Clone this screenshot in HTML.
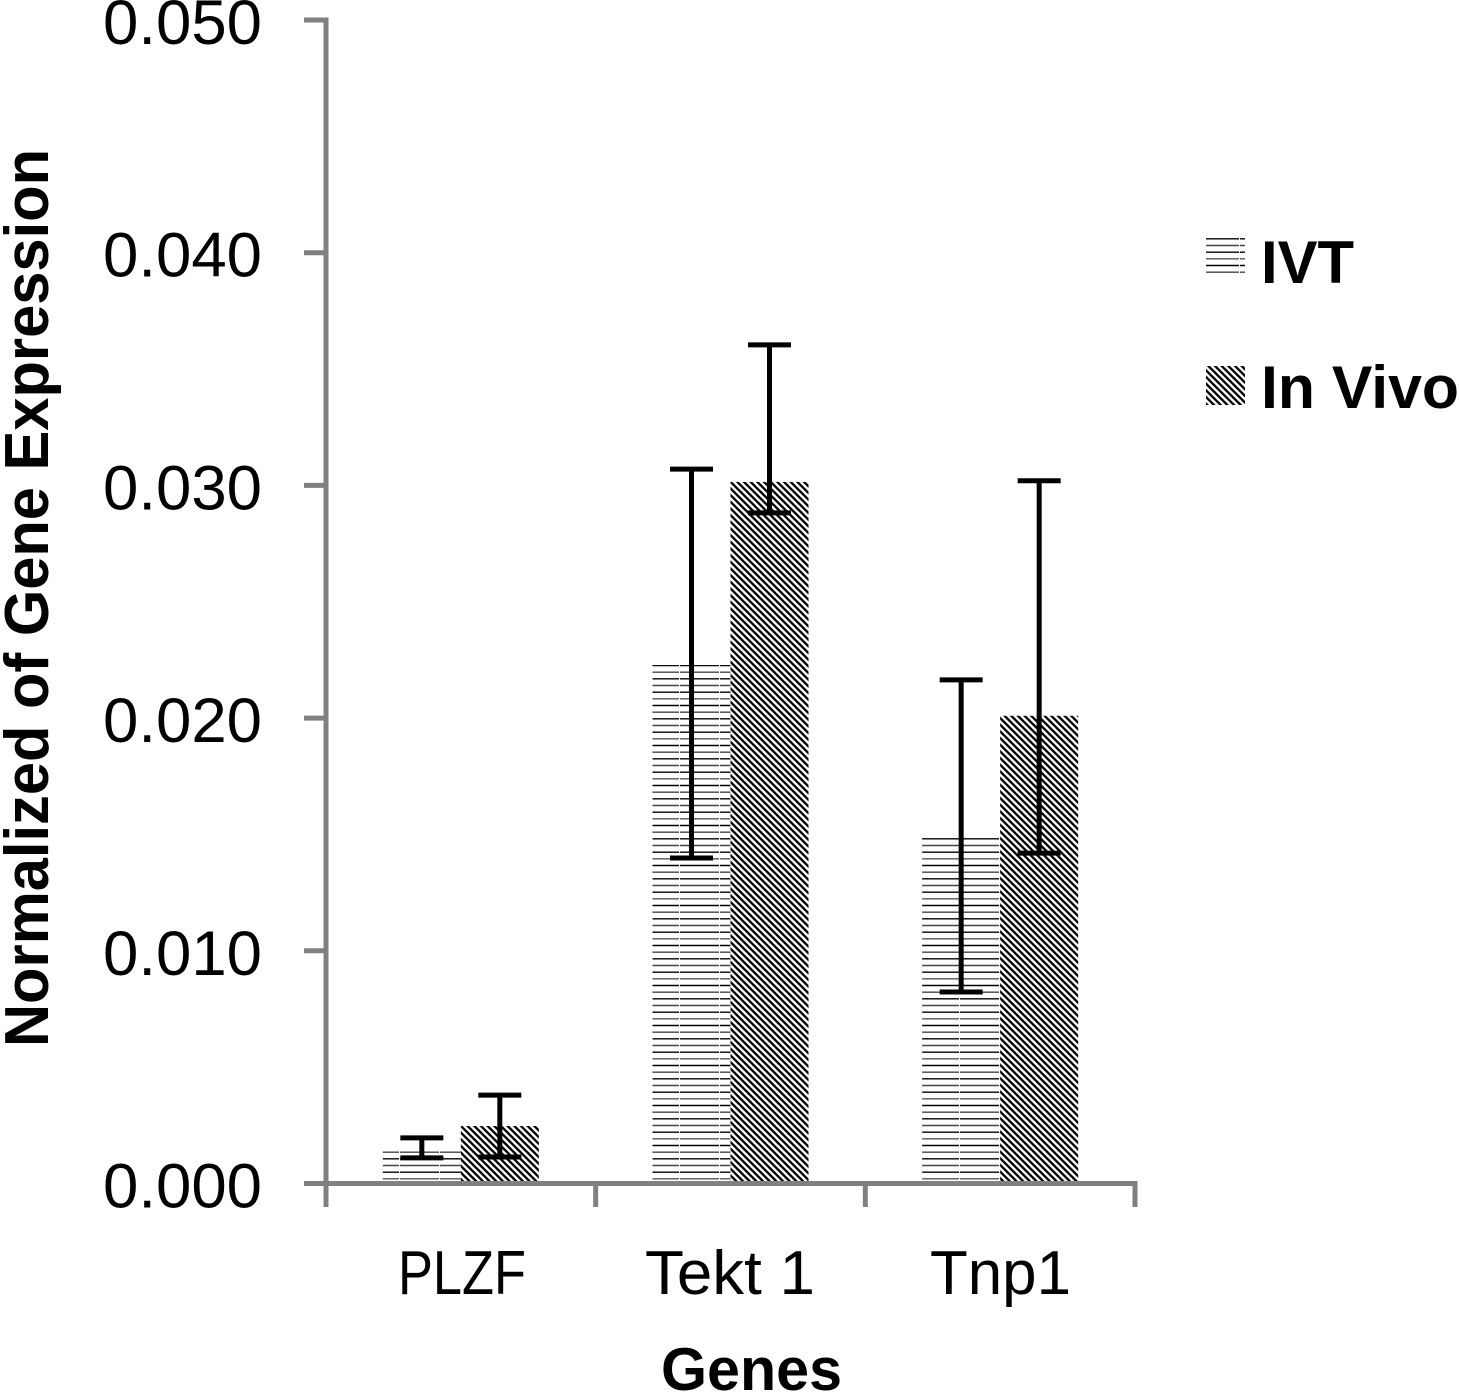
<!DOCTYPE html>
<html>
<head>
<meta charset="utf-8">
<title>Normalized Gene Expression Chart</title>
<style>
html,body{margin:0;padding:0;background:#fff;width:1459px;height:1394px;overflow:hidden}
svg{display:block}
text{font-family:"Liberation Sans",sans-serif;fill:#000}
</style>
</head>
<body>
<svg id="chart" xmlns="http://www.w3.org/2000/svg" width="1459" height="1394" viewBox="0 0 1459 1394">
<defs>
<pattern id="hatch-ivt" patternUnits="userSpaceOnUse" x="0" y="4.5" width="40" height="40">
<rect width="40" height="40" fill="#fff"/>
<g stroke-width="1.4">
<line x1="0" x2="40" y1="1" y2="1" stroke="#444"/>
<line x1="0" x2="40" y1="7.67" y2="7.67" stroke="#000"/>
<line x1="0" x2="40" y1="14.33" y2="14.33" stroke="#555"/>
<line x1="0" x2="40" y1="21" y2="21" stroke="#000"/>
<line x1="0" x2="40" y1="27.67" y2="27.67" stroke="#444"/>
<line x1="0" x2="40" y1="34.33" y2="34.33" stroke="#000"/>
</g>
<line x1="39.5" x2="39.5" y1="0" y2="40" stroke="#fff" stroke-width="1"/>
</pattern>
<pattern id="hatch-vivo" patternUnits="userSpaceOnUse" width="6.67" height="6.67" patternTransform="translate(729 0)">
<rect width="6.67" height="6.67" fill="#fff"/>
<path d="M-1.67,-1.67 L8.34,8.34 M-1.67,4.99 L1.67,8.34 M4.99,-1.67 L8.34,1.67" stroke="#000" stroke-width="2.3" fill="none"/>
</pattern>
</defs>
<g id="bars"></g>
<g id="errors"></g>
<g id="axes"></g>
<g id="labels">
<text x="398" y="1294" font-size="62" textLength="128" lengthAdjust="spacingAndGlyphs">PLZF</text>
<text x="645" y="1294" font-size="62" textLength="170" lengthAdjust="spacingAndGlyphs">Tekt 1</text>
<text x="930" y="1294" font-size="62" textLength="141" lengthAdjust="spacingAndGlyphs">Tnp1</text>
</g>
<text transform="translate(48 1047) rotate(-90)" font-size="62" font-weight="bold" textLength="898" lengthAdjust="spacingAndGlyphs">Normalized of Gene Expression</text>
<text x="661" y="1390" font-size="60" font-weight="bold" textLength="181" lengthAdjust="spacingAndGlyphs">Genes</text>
<g>
<g>
<rect x="1206" y="238" width="39" height="37" fill="url(#hatch-ivt)"/>
<text x="1261" y="283" font-size="60" font-weight="bold" textLength="93" lengthAdjust="spacingAndGlyphs">IVT</text>
</g>
<g>
<rect x="1206" y="366" width="39" height="39" fill="url(#hatch-vivo)"/>
<text x="1261" y="408" font-size="60" font-weight="bold" textLength="198" lengthAdjust="spacingAndGlyphs">In Vivo</text>
</g>
</g>
</svg>
<script>
const categories = ['PLZF', 'Tekt 1', 'Tnp1'];
const seriesNames = ['IVT', 'In Vivo'];
const ivtValues = [0.00144, 0.02228, 0.01485];
const vivoValues = [0.00247, 0.03015, 0.0201];
const ivtErrHigh = [0.00196, 0.0307, 0.02164];
const ivtErrLow = [0.0011, 0.01399, 0.00823];
const vivoErrHigh = [0.0038, 0.03604, 0.0302];
const vivoErrLow = [0.00114, 0.02882, 0.0142];
const yTicks = [0, 0.01, 0.02, 0.03, 0.04, 0.05];
const yTickLabels = ['0.000', '0.010', '0.020', '0.030', '0.040', '0.050'];

const NS = 'http://www.w3.org/2000/svg';
const plotLeft = 326, plotRight = 1135, plotBottom = 1183.5, plotTop = 20, yMax = 0.05;
const bandWidth = (plotRight - plotLeft) / categories.length;
const barWidth = 78, capHalf = 21.5;
const y = v => plotBottom - (v / yMax) * (plotBottom - plotTop);
const bandCenter = i => plotLeft + bandWidth * (i + 0.5);
const svgEl = (tag, parent, attrs) => {
  const el = document.createElementNS(NS, tag);
  for (const k in attrs) el.setAttribute(k, attrs[k]);
  parent.appendChild(el);
  return el;
};
const barsG = document.getElementById('bars');
const errorsG = document.getElementById('errors');
const axesG = document.getElementById('axes');
const labelsG = document.getElementById('labels');

const seriesValues = [ivtValues, vivoValues];
const seriesHigh = [ivtErrHigh, vivoErrHigh];
const seriesLow = [ivtErrLow, vivoErrLow];
const seriesFill = ['url(#hatch-ivt)', 'url(#hatch-vivo)'];

categories.forEach((cat, i) => {
  seriesNames.forEach((name, s) => {
    const x0 = bandCenter(i) + (s === 0 ? -barWidth : 0);
    const cx = x0 + barWidth / 2;
    const v = seriesValues[s][i];
    const bar = svgEl('rect', barsG, {x: x0, y: y(v), width: barWidth, height: plotBottom - y(v), fill: seriesFill[s]});
    
    

    const hi = y(seriesHigh[s][i]), lo = y(seriesLow[s][i]);
    const stem = svgEl('line', errorsG, {x1: cx, x2: cx, y1: hi, y2: lo, stroke: '#000', 'stroke-width': 5});
    
    
    const capTop = svgEl('line', errorsG, {x1: cx - capHalf, x2: cx + capHalf, y1: hi, y2: hi, stroke: '#000', 'stroke-width': 5});
    
    
    const capBottom = svgEl('line', errorsG, {x1: cx - capHalf, x2: cx + capHalf, y1: lo, y2: lo, stroke: '#000', 'stroke-width': 5});
    
    
  });
});

const AXIS = '#808080';
const yAxisLine = svgEl('line', axesG, {x1: plotLeft, x2: plotLeft, y1: plotTop - 2.5, y2: 1207, stroke: AXIS, 'stroke-width': 5});


const xAxisLine = svgEl('line', axesG, {x1: 304, x2: plotRight + 2.5, y1: plotBottom, y2: plotBottom, stroke: AXIS, 'stroke-width': 5});



yTicks.forEach((t, i) => {
  const tick = svgEl('line', axesG, {x1: 304, x2: plotLeft, y1: y(t), y2: y(t), stroke: AXIS, 'stroke-width': 5});
  
  
  const lab = svgEl('text', labelsG, {x: 103, y: y(t) + 24, 'font-size': 63, textLength: 159, lengthAdjust: 'spacingAndGlyphs'});
  lab.textContent = yTickLabels[i];
  
  
});
for (let i = 0; i <= categories.length; i++) {
  const x = plotLeft + bandWidth * i;
  const tick = svgEl('line', axesG, {x1: x, x2: x, y1: plotBottom, y2: 1207, stroke: AXIS, 'stroke-width': 5});
  
  
}
</script>
</body>
</html>
